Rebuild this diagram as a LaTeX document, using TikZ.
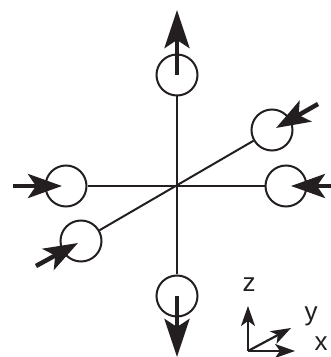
\documentclass[tikz,border=0pt]{standalone}
\usepackage{fontspec}
\setmainfont{Liberation Sans}
\usetikzlibrary{arrows.meta}
\definecolor{inkblack}{HTML}{231F20}
\tikzset{
  site/.style={circle,draw=inkblack,line width=2pt,minimum size=41pt,inner sep=0pt},
  bond/.style={draw=inkblack,line width=2pt},
  bigspin/.style={draw=inkblack,line width=4.5pt,-{Stealth[length=38pt,width=25pt,inset=8pt]}},
  midspin/.style={draw=inkblack,line width=4.5pt,-{Stealth[length=34pt,width=24pt,inset=8pt]}},
  smallax/.style={draw=inkblack,line width=2.2pt,-{Stealth[length=20pt,width=14pt,inset=5pt]}},
  axlabel/.style={text=inkblack,font=\fontsize{26}{26}\selectfont,inner sep=0pt,anchor=base}
}
\begin{document}
\begin{tikzpicture}[x=1pt,y=1pt]
\useasboundingbox (0,0) rectangle (331,357);
\coordinate (origin) at (177,171);
\node[site] (top) at (177,282) {};
\node[site] (bottom) at (177,61) {};
\node[site] (left) at (66,171) {};
\node[site] (right) at (286,171) {};
\node[site] (back) at (272,227) {};
\node[site] (front) at (81,116) {};
\draw[bond] (top)--(bottom);
\draw[bond] (left)--(right);
\draw[bond] (back)--(front);
% spins
\coordinate (topin) at (177,282);
\coordinate (toptip) at (177,347);
\coordinate (botin) at (177,61);
\coordinate (bottip) at (177,0);
\coordinate (lout) at (13,171);
\coordinate (ltip) at (62,171);
\coordinate (rout) at (331,171);
\coordinate (rtip) at (291,171);
\coordinate (bout) at (318,253);
\coordinate (btip) at (276,229);
\coordinate (fout) at (36,91);
\coordinate (ftip) at (78,114);
\draw[bigspin] (topin)--(toptip);
\draw[bigspin] (botin)--(bottip);
\draw[midspin] (lout)--(ltip);
\draw[midspin] (rout)--(rtip);
\draw[midspin] (bout)--(btip);
\draw[midspin] (fout)--(ftip);
% axes
\coordinate (ax) at (248,6);
\coordinate (axz) at (248,51);
\coordinate (axy) at (291,29);
\coordinate (axx) at (295,6);
\draw[smallax] (ax)--(axz);
\draw[smallax] (ax)--(axy);
\draw[smallax] (ax)--(axx);
\node[axlabel] (zlabel) at (249,65) {z};
\node[axlabel] (ylabel) at (311,37) {y};
\node[axlabel] (xlabel) at (321,6) {x};
\end{tikzpicture}
\end{document}
